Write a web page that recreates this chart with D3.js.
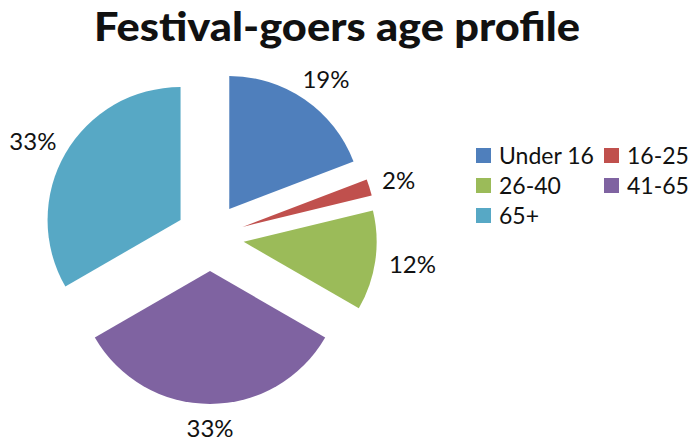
<!DOCTYPE html>
<html lang="en">
<head>
  <meta charset="UTF-8">
  <title>Festival-goers age profile</title>
  <script src="https://d3js.org/d3.v7.min.js"></script>
  <style>
    body { margin: 0; background: #fff; font-family: Lato, "Open Sans", sans-serif; }
    text { fill: #111; }
  </style>
</head>
<body>
  <script>
    // Chart data
    const categories = ["Under 16", "16-25", "26-40", "41-65", "65+"];
    const values = [19, 2, 12, 33, 33];
    const labels = ["19%", "2%", "12%", "33%", "33%"];
    const colors = ["#4f7fbc", "#c0504d", "#9bbb59", "#7f63a1", "#57a8c5"];

    const W = 692, H = 442;
    const cx = 210, cy = 237;     // pie centre before explosion
    const radius = 133;
    const explode = 34;
    const labelGap = 10;

    const svg = d3.select("body").append("svg")
      .attr("width", W)
      .attr("height", H);

    // Title
    svg.append("text")
      .attr("x", 337)
      .attr("y", 41)
      .attr("text-anchor", "middle")
      .attr("textLength", 486)
      .attr("lengthAdjust", "spacingAndGlyphs")
      .style("font-size", "40px")
      .style("font-weight", "900")
      .text("Festival-goers age profile");

    const data = categories.map((c, i) => ({ name: c, value: values[i], label: labels[i], color: colors[i] }));

    const pie = d3.pie().sort(null).value(d => d.value);
    const arc = d3.arc().innerRadius(0).outerRadius(radius);

    const slices = svg.append("g")
      .attr("transform", `translate(${cx},${cy})`)
      .selectAll("g")
      .data(pie(data))
      .join("g")
      .attr("transform", d => {
        const a = (d.startAngle + d.endAngle) / 2;
        return `translate(${explode * Math.sin(a)},${-explode * Math.cos(a)})`;
      });

    slices.append("path")
      .attr("d", arc)
      .attr("fill", d => d.data.color);

    // Outside-end labels
    slices.append("text")
      .style("font-size", "24px")
      .attr("text-anchor", "middle")
      .attr("dy", "0.36em")
      .text(d => d.data.label)
      .attr("transform", function (d) {
        const a = (d.startAngle + d.endAngle) / 2;
        const dx = Math.sin(a), dy = -Math.cos(a);
        const w = this.getComputedTextLength();
        const h = 17;
        const r = radius + labelGap;
        const x = dx * r + dx * w / 2 + dx * 4;
        const y = dy * r + dy * h / 2 + dy * 6;
        return `translate(${x},${y})`;
      });

    // Legend
    const legend = svg.append("g").attr("transform", "translate(476,148)");
    const item = legend.selectAll("g")
      .data(data)
      .join("g")
      .attr("transform", (d, i) => `translate(${(i % 2) * 128},${Math.floor(i / 2) * 30})`);

    item.append("rect")
      .attr("width", 15)
      .attr("height", 15)
      .attr("fill", d => d.color);

    item.append("text")
      .attr("x", 23)
      .attr("y", 16)
      .style("font-size", "23px")
      .text(d => d.name);
  </script>
</body>
</html>
